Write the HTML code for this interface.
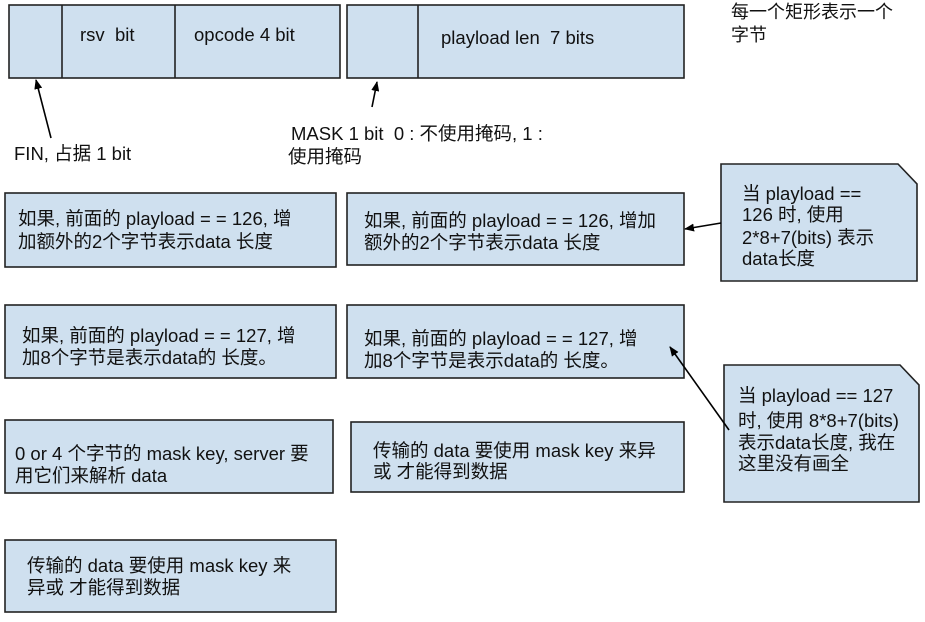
<!DOCTYPE html>
<html><head><meta charset="utf-8"><style>
html,body{margin:0;padding:0;background:#fff;}
svg text{font-family:"Liberation Sans","Noto Sans CJK SC",sans-serif;font-size:18.5px;fill:#111;white-space:pre;}
</style></head><body>
<svg width="925" height="617" viewBox="0 0 925 617" xmlns="http://www.w3.org/2000/svg" xml:space="preserve">
<defs><marker id="a" markerWidth="10" markerHeight="8" refX="9" refY="4" orient="auto" markerUnits="userSpaceOnUse"><path d="M0,0 L10,4 L0,8 z" fill="#000"/></marker></defs>
<g fill="#cfe0ef" stroke="#222" stroke-width="1.6">
<rect x="9" y="5" width="331" height="73"/>
<rect x="347" y="5" width="337" height="73"/>
<rect x="5" y="193" width="331" height="74"/>
<rect x="347" y="193" width="337" height="72"/>
<rect x="5" y="305" width="331" height="73"/>
<rect x="347" y="305" width="337" height="73"/>
<rect x="5" y="420" width="328" height="73"/>
<rect x="351" y="422" width="333" height="70"/>
<rect x="5" y="540" width="331" height="72"/>
<path d="M721,164 H898 L917,184 V281 H721 Z"/>
<path d="M724,365 H900 L919,385 V502 H724 Z"/>
</g>
<g stroke="#222" stroke-width="1.6">
<line x1="62" y1="5" x2="62" y2="78"/>
<line x1="175" y1="5" x2="175" y2="78"/>
<line x1="418" y1="5" x2="418" y2="78"/>
</g>
<g stroke="#000" stroke-width="1.6" fill="none" marker-end="url(#a)">
<line x1="51" y1="138" x2="36" y2="80"/>
<line x1="372" y1="107" x2="377" y2="82"/>
<line x1="721" y1="223" x2="685" y2="229"/>
<line x1="729" y1="430" x2="670" y2="347"/>
</g>
<text x="80" y="41">rsv  bit</text>
<text x="194" y="41">opcode 4 bit</text>
<text x="441" y="44">playload len  7 bits</text>
<text x="731" y="18" style="font-size:18px">每一个矩形表示一个</text>
<text x="731" y="41" style="font-size:18px">字节</text>
<text x="14" y="160">FIN, 占据 1 bit</text>
<text x="291" y="140">MASK 1 bit  0 : 不使用掩码, 1 :</text>
<text x="288" y="163">使用掩码</text>
<text x="18" y="225">如果, 前面的 playload = = 126, 增</text>
<text x="18" y="248">加额外的2个字节表示data 长度</text>
<text x="364" y="227">如果, 前面的 playload = = 126, 增加</text>
<text x="364" y="249">额外的2个字节表示data 长度</text>
<text x="22" y="342">如果, 前面的 playload = = 127, 增</text>
<text x="22" y="364">加8个字节是表示data的 长度。</text>
<text x="364" y="345">如果, 前面的 playload = = 127, 增</text>
<text x="364" y="367">加8个字节是表示data的 长度。</text>
<text x="15" y="460">0 or 4 个字节的 mask key, server 要</text>
<text x="15" y="482">用它们来解析 data</text>
<text x="373" y="457">传输的 data 要使用 mask key 来异</text>
<text x="373" y="478">或 才能得到数据</text>
<text x="27" y="572">传输的 data 要使用 mask key 来</text>
<text x="27" y="594">异或 才能得到数据</text>
<text x="742" y="200">当 playload ==</text>
<text x="742" y="221">126 时, 使用</text>
<text x="742" y="244">2*8+7(bits) 表示</text>
<text x="742" y="265">data长度</text>
<text x="738" y="402">当 playload == 127</text>
<text x="738" y="427">时, 使用 8*8+7(bits)</text>
<text x="738" y="449">表示data长度, 我在</text>
<text x="738" y="470">这里没有画全</text>
</svg>
</body></html>
